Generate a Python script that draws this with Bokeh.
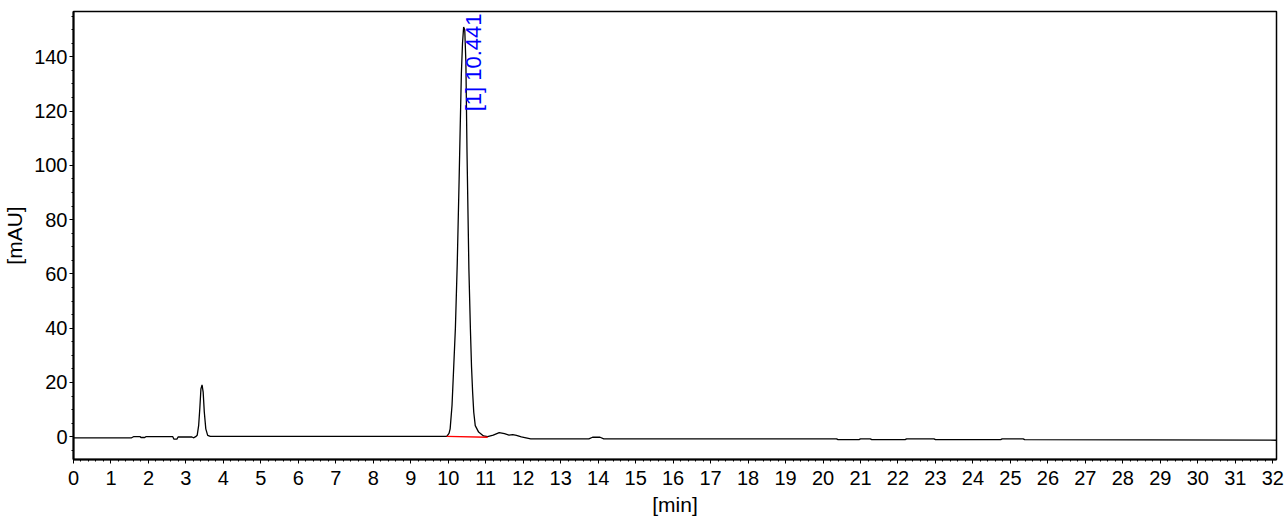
import math
from bokeh.plotting import figure
from bokeh.models import Range1d, SingleIntervalTicker
from bokeh.core.properties import value
from bokeh.embed import file_html
from bokeh.resources import INLINE

# retention time [min]
time_min = [0.00, 1.55, 1.60, 1.78, 1.80, 1.90, 1.93, 2.65, 2.68, 2.76, 2.79, 3.16, 3.20, 3.26,
            3.30, 3.34, 3.37, 3.40, 3.43, 3.46, 3.49, 3.53, 3.58, 3.65, 5.00, 9.90, 9.96,
            10.02, 10.05, 10.10, 10.14, 10.19, 10.24, 10.29, 10.32, 10.35, 10.38, 10.41, 10.44,
            10.47, 10.50, 10.55, 10.59, 10.62, 10.65, 10.68, 10.72, 10.81, 10.94, 11.05, 11.20,
            11.36, 11.50, 11.62, 11.72, 11.82, 11.95, 12.20, 13.75, 13.85, 14.05, 14.15, 20.36,
            20.40, 20.96, 21.00, 21.26, 21.30, 22.19, 22.23, 22.96, 23.00, 24.74, 24.78, 25.34,
            25.38, 32.10]
# detector signal [mAU]
signal_mau = [-0.4, -0.4, 0.0, 0.0, -0.3, -0.3, 0.0, 0.0, -0.9, -0.9, -0.1, -0.1, -0.4, 0.0,
              0.5, 4.2, 10.3, 17.6, 19.1, 16.4, 9.1, 2.9, 0.5, 0.1, 0.1, 0.1, 0.1,
              1.2, 2.9, 11.5, 24.0, 40.0, 64.0, 95.0, 115.0, 134.0, 145.0, 151.0, 150.0,
              138.0, 105.0, 62.0, 40.0, 26.0, 16.4, 9.0, 4.1, 1.7, 0.3, 0.0, 0.6,
              1.5, 1.1, 0.6, 0.8, 0.5, -0.1, -0.8, -0.8, -0.2, -0.2, -0.8, -0.8,
              -1.1, -1.1, -0.8, -0.8, -1.1, -1.1, -0.8, -0.8, -1.1, -1.1, -0.8, -0.8,
              -1.1, -1.3]

# integration baseline of peak 1
base_time = [9.96, 11.05]
base_signal = [0.1, -0.2]

peak_time = [10.441]
peak_label = ["[1] 10.441"]

x_lo, x_hi = 0.0, 32.1
y_lo, y_hi = -8.4, 156.7

FONT = "Liberation Sans"

p = figure(output_backend="svg", toolbar_location=None,
           width=1286, height=518,
           min_border_left=73, min_border_top=11, min_border_right=10, min_border_bottom=57,
           x_range=Range1d(x_lo, x_hi), y_range=Range1d(y_lo, y_hi),
           background_fill_color="white", border_fill_color="white")

p.outline_line_color = "black"
p.outline_line_width = 1.5
p.xgrid.visible = False
p.ygrid.visible = False

p.xaxis.ticker = SingleIntervalTicker(interval=1, num_minor_ticks=5)
p.yaxis.ticker = SingleIntervalTicker(interval=20, num_minor_ticks=4)

for ax in (p.xaxis[0], p.yaxis[0]):
    ax.axis_line_color = "black"
    ax.axis_line_width = 2
    ax.major_tick_in = 0
    ax.major_tick_out = 4
    ax.minor_tick_in = 0
    ax.minor_tick_out = 2
    ax.major_tick_line_color = "black"
    ax.minor_tick_line_color = "black"
    ax.major_label_text_font = FONT
    ax.major_label_text_font_size = "20px"
    ax.major_label_text_color = "black"
    ax.axis_label_text_font = FONT
    ax.axis_label_text_font_size = "21px"
    ax.axis_label_text_font_style = "normal"
    ax.axis_label_text_color = "black"

p.xaxis.axis_label = "[min]"
p.yaxis.axis_label = "[mAU]"
p.xaxis.major_label_standoff = 7
p.xaxis.axis_label_standoff = 5
p.yaxis.major_label_standoff = 2
p.yaxis.axis_label_standoff = 5

p.line(time_min, signal_mau, line_color="black", line_width=1.3)
p.line(base_time, base_signal, line_color="red", line_width=1.3)

p.text(x=peak_time, y=[y_hi] * len(peak_time), text=peak_label, angle=math.pi / 2,
       text_align="right", text_baseline="alphabetic", x_offset=9, y_offset=2,
       text_font=value(FONT), text_font_size="22px", text_color="#0000FF")

open("out.html", "w").write(file_html(p, INLINE))
